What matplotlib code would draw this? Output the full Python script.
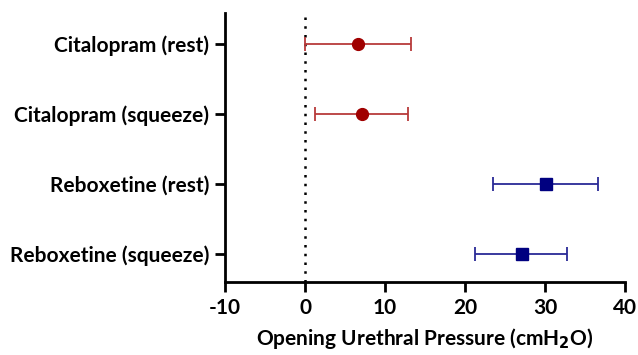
import matplotlib
matplotlib.use("Agg")
import matplotlib.pyplot as plt

categories = ["Citalopram (rest)", "Citalopram (squeeze)", "Reboxetine (rest)", "Reboxetine (squeeze)"]
means = [6.6, 7.1, 30.1, 27.1]
lower = [0.0, 1.3, 23.5, 21.3]
upper = [13.2, 12.9, 36.6, 32.8]
colors = ["#a00000", "#a00000", "#000080", "#000080"]
ecolors = ["#b83a3a", "#b83a3a", "#2a2a96", "#2a2a96"]
markers = ["o", "o", "s", "s"]

plt.rcParams['font.family'] = ['Lato', 'DejaVu Sans']
plt.rcParams['axes.unicode_minus'] = False
fig = plt.figure(figsize=(6.38, 3.55), dpi=100)
ax = fig.add_axes([225/638, 1-282/355, 400/638, 269/355])

for i, (m, lo, hi) in enumerate(zip(means, lower, upper)):
    ax.errorbar(m, i, xerr=[[m-lo], [hi-m]], fmt=markers[i], color=colors[i],
                ecolor=ecolors[i], elinewidth=1.3, capsize=5, capthick=1.3,
                markersize=8.5, zorder=3)

ax.axvline(0, color="black", linestyle=(0, (1, 2.5)), linewidth=1.8, zorder=1)
ax.set_xlim(-10, 40)
ax.set_ylim(3.4, -0.44)
ax.set_xticks([-10, 0, 10, 20, 30, 40])
ax.set_yticks(range(len(categories)))
ax.set_yticklabels(categories, fontsize=15, fontweight="bold")
for lab in ax.get_xticklabels():
    lab.set_fontsize(15)
    lab.set_fontweight("bold")
ax.set_xlabel("Opening Urethral Pressure (cmH$_\\mathbf{2}$O)", fontsize=15, fontweight="bold", labelpad=6)
for s in ["top", "right"]:
    ax.spines[s].set_visible(False)
for s in ["left", "bottom"]:
    ax.spines[s].set_linewidth(2)
ax.tick_params(axis="both", width=2, length=7.5, pad=4)
fig.savefig("out.png", dpi=100)
